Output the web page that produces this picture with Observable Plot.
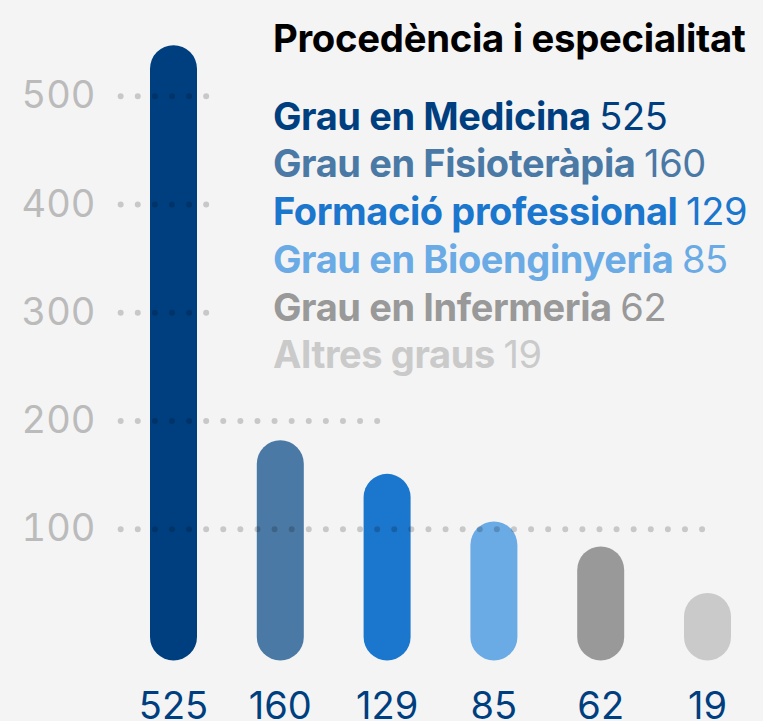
<!DOCTYPE html>
<html><head><meta charset="utf-8">
<script src="https://cdn.jsdelivr.net/npm/d3@7"></script>
<script src="https://cdn.jsdelivr.net/npm/@observablehq/plot@0.6"></script>
<style>
html,body{margin:0;padding:0;background:#f4f4f4;}
#chart svg{display:block;font-family:Inter,"Noto Sans",sans-serif;}
</style></head>
<body><div id="chart"></div>
<script>
const categories = ["Grau en Medicina","Grau en Fisioteràpia","Formació professional","Grau en Bioenginyeria","Grau en Infermeria","Altres graus"];
const values = [525,160,129,85,62,19];
const colors = ["#003f7f","#4b79a5","#1b76cd","#6aabe5","#999999","#cacaca"];
const title = "Procedència i especialitat";
const gridValues = [500,400,300,200,100];
const gridEnds = [0.32,0.32,0.32,1.925,4.97]; // in bar-index units
const gridStart = -0.49;

const data = categories.map((c,i)=>({i, cat:c, value:values[i], color:colors[i]}));
const grid = gridValues.map((v,k)=>({v, x1:gridStart, x2:gridEnds[k]}));

const plot = Plot.plot({
  width:763, height:721,
  marginLeft:118, marginTop:0, marginRight:0, marginBottom:0,
  style:{background:"#f4f4f4", fontFamily:"Inter, sans-serif", overflow:"visible"},
  x:{domain:[0,5], range:[173,707], axis:null},
  y:{domain:[0,500], range:[637,95.7], axis:null},
  color:{type:"identity"},
  marks:[
    Plot.ruleX(data,{x:"i", y1:0, y2:"value", stroke:"color", strokeWidth:47, strokeLinecap:"round"}),
    Plot.ruleY(grid,{y:"v", x1:"x1", x2:"x2", stroke:"black", strokeOpacity:0.18, strokeWidth:6, strokeDasharray:"0,17.1", strokeLinecap:"round"}),
    Plot.axisY({ticks:gridValues, tickSize:0, tickPadding:23, fontSize:38, color:"#bbbbbb", label:null, anchor:"left"}),
    Plot.text(data,{x:"i", y:0, text:d=>String(d.value), fill:"#003f7f", fontSize:38, lineAnchor:"bottom", dy:81, textAnchor:"middle"})
  ]
});
document.getElementById("chart").appendChild(plot);

// legend (overlaid inside the SVG)
const svg = d3.select(plot.tagName.toLowerCase()==="svg" ? plot : plot.querySelector("svg"));
const lg = svg.append("g").attr("font-family","Inter, sans-serif").attr("text-anchor","start");
lg.append("text").attr("x",273).attr("y",52).attr("font-size",38.3).attr("font-weight",700)
  .attr("fill","#000").attr("letter-spacing","-0.3").text(title);
const baselines = [130,177,225,273,321,368];
data.forEach((d,k)=>{
  const t = lg.append("text").attr("x",273).attr("y",baselines[k]).attr("font-size",38).attr("fill",d.color).attr("letter-spacing","-0.4");
  t.append("tspan").attr("font-weight",700).text(d.cat+" ");
  t.append("tspan").attr("font-weight",400).text(String(d.value));
});
</script></body></html>
